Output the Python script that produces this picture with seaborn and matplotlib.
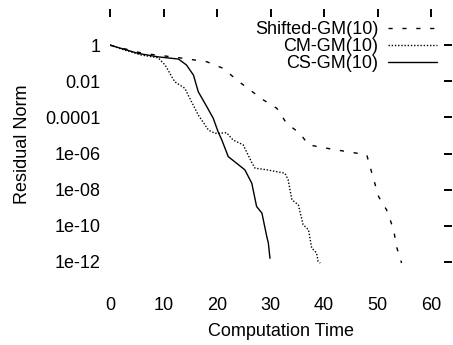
import numpy as np
import pandas as pd
import matplotlib
matplotlib.use("Agg")
import matplotlib.pyplot as plt
import seaborn as sns

# values (time, log10 of residual norm)
shifted_time = [0, 6.2, 12.5, 18.1, 21.2, 23.7, 26.2, 28.7, 31.2, 33.0, 35.5, 37.1,
                41.7, 46.1, 48.0, 48.6, 50.2, 51.7, 53.0, 53.6, 54.5]
shifted_exp = [0, -0.46, -0.68, -0.92, -1.29, -1.93, -2.49, -3.04, -3.5, -4.33, -4.88, -5.52,
               -5.77, -5.98, -6.08, -6.72, -8.38, -9.12, -10.2, -11.2, -12.06]

cm_time = [0, 2.8, 5.9, 9.0, 10.3, 12.1, 14.0, 14.6, 16.5, 18.4, 19.6, 20.2, 21.8, 23.0,
           24.9, 26.5, 27.1, 29.3, 32.7, 33.3, 34.0, 35.2, 36.1, 37.1, 37.7, 38.6, 38.9, 39.3]
cm_exp = [0, -0.28, -0.55, -0.7, -1.1, -2.03, -2.39, -2.76, -3.87, -4.7, -4.88, -4.88, -4.85, -5.25,
          -5.52, -6.5, -6.81, -6.9, -7.09, -7.46, -8.56, -8.84, -9.94, -10.22, -11.23, -11.5, -11.97, -12.06]

cs_time = [0, 5.3, 9.0, 12.8, 14.3, 15.6, 16.5, 18.1, 19.3, 20.2, 20.9, 22.1, 25.2, 26.5,
           27.4, 28.4, 29.3, 29.6, 29.9]
cs_exp = [0, -0.46, -0.65, -0.77, -1.1, -1.66, -2.58, -3.41, -4.05, -4.79, -5.25, -6.17, -6.9, -7.64,
          -8.93, -9.3, -10.59, -10.96, -11.8]

methods = ["Shifted-GM(10)", "CM-GM(10)", "CS-GM(10)"]
y_ticks_exp = [0, -2, -4, -6, -8, -10, -12]
y_tick_labels = ["1", "0.01", "0.0001", "1e-06", "1e-08", "1e-10", "1e-12"]
x_ticks = [0, 10, 20, 30, 40, 50, 60]

frames = []
for name, t, e in zip(methods, [shifted_time, cm_time, cs_time], [shifted_exp, cm_exp, cs_exp]):
    frames.append(pd.DataFrame({"time": t, "residual": 10.0 ** np.array(e), "method": name}))
df = pd.concat(frames, ignore_index=True)

sns.set_style("white", {"text.color": "black", "axes.labelcolor": "black",
                        "xtick.color": "black", "ytick.color": "black"})
plt.rcParams["font.family"] = ["Liberation Sans", "DejaVu Sans"]

fig = plt.figure(figsize=(4.53, 3.45), dpi=100)
ax = fig.add_axes([110 / 453, 65 / 345, 342.4 / 453, 271 / 345])

sns.lineplot(data=df, x="time", y="residual", hue="method", style="method",
             hue_order=methods, style_order=methods,
             palette=["black"] * 3,
             dashes={"Shifted-GM(10)": (3, 7), "CM-GM(10)": (1, 1.3), "CS-GM(10)": ""},
             sort=False, estimator=None, linewidth=1.0, ax=ax)

ax.set_yscale("log")
ax.set_xlim(0, 64)
ax.set_ylim(1e-13, 1e2)
ax.set_xticks(x_ticks)
ax.set_yticks([10.0 ** e for e in y_ticks_exp])
ax.set_yticklabels(y_tick_labels)
ax.minorticks_off()

for s in ax.spines.values():
    s.set_visible(False)
ax.tick_params(axis="both", which="major", direction="in", length=5.5, width=1.4,
               color="black", labelcolor="black", labelsize=13, top=True, right=True)
ax.tick_params(axis="x", pad=12)
ax.tick_params(axis="y", pad=7)

ax.set_xlabel("Computation Time", fontsize=13, labelpad=7, color="black")
ax.set_ylabel("Residual Norm", fontsize=13, labelpad=10, color="black")

sns.move_legend(ax, "upper right", bbox_to_anchor=(437 / 453, 1 - 21 / 345),
                bbox_transform=fig.transFigure, frameon=False, markerfirst=False,
                title=None, fontsize=13, handlelength=2.7, handletextpad=0.55,
                labelspacing=0.0, borderpad=0, borderaxespad=0)

fig.savefig("out.png", dpi=100)
